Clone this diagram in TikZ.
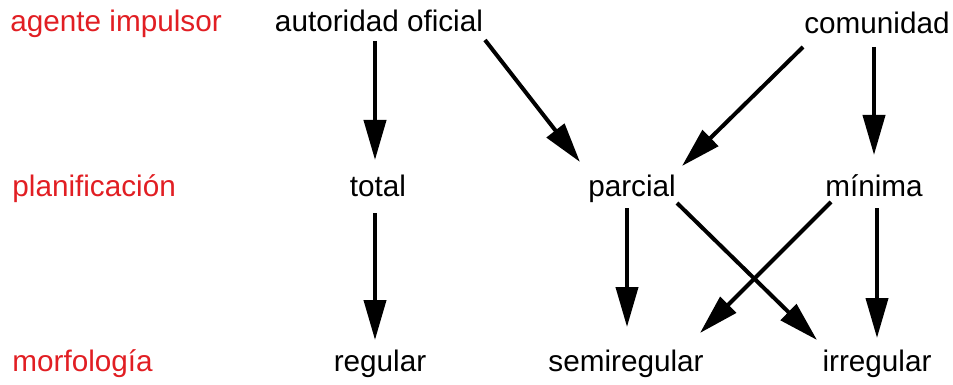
\documentclass[tikz,border=0pt]{standalone}
\usepackage{fontspec}
\setmainfont{Liberation Sans}
\usetikzlibrary{arrows.meta}
\definecolor{labelred}{RGB}{225,30,35}

\begin{document}
\begin{tikzpicture}[x=0.5pt,y=-0.5pt,
  every node/.style={inner sep=0pt,font=\fontsize{14.85}{18}\selectfont},
  level/.style={anchor=base west,text=labelred},
  item/.style={anchor=base},
  arr/.style={-{Triangle[length=20pt,width=11pt]},line width=2pt}]
  \useasboundingbox (0,0) rectangle (953,385);

  % Row labels
  \node[level] (agente) at (10,32) {agente impulsor};
  \node[level] (plan) at (12,197) {planificación};
  \node[level] (morf) at (12,371) {morfología};

  % Agents
  \node[item] (aut) at (379,32) {autoridad oficial};
  \node[item] (com) at (877,34) {comunidad};

  % Planning
  \node[item] (total) at (378,197) {total};
  \node[item] (par) at (632,197) {parcial};
  \node[item] (min) at (874,197) {mínima};

  % Morphology
  \node[item] (reg) at (380,371) {regular};
  \node[item] (semi) at (626,371) {semiregular};
  \node[item] (irr) at (877,371) {irregular};

  % Agent to planning
  \draw[arr] ([shift={(-4,9)}]aut.base) -- ([shift={(-3,-37)}]total.base);
  \draw[arr] ([shift={(106,8)}]aut.base) -- ([shift={(-52,-35)}]par.base);
  \draw[arr] ([shift={(-74,13)}]com.base) -- ([shift={(50,-31)}]par.base);
  \draw[arr] ([shift={(-3,13)}]com.base) -- ([shift={(0,-42)}]min.base);

  % Planning to morphology
  \draw[arr] ([shift={(-3,16)}]total.base) -- ([shift={(-5,-31)}]reg.base);
  \draw[arr] ([shift={(-5,11)}]par.base) -- ([shift={(1,-44)}]semi.base);
  \draw[arr] ([shift={(45,6)}]par.base) -- ([shift={(-60,-31)}]irr.base);
  \draw[arr] ([shift={(-43,5)}]min.base) -- ([shift={(74,-38)}]semi.base);
  \draw[arr] ([shift={(3,11)}]min.base) -- ([shift={(0,-33)}]irr.base);
\end{tikzpicture}
\end{document}
